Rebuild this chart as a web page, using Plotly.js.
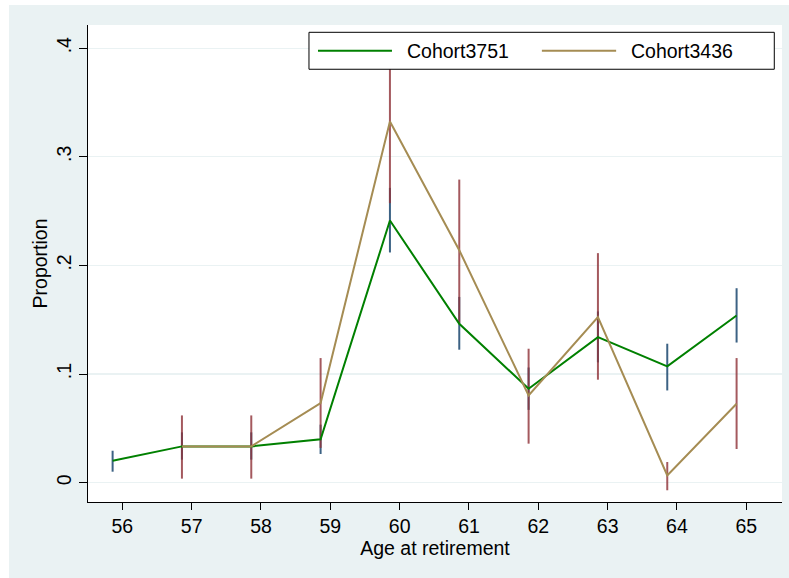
<!DOCTYPE html>
<html>
<head>
<meta charset="utf-8">
<script src="https://cdn.plot.ly/plotly-3.0.1.min.js"></script>
<style>
html,body{margin:0;padding:0;background:#ffffff;}
#chart{position:absolute;left:9px;top:5px;width:780px;height:573px;}
</style>
</head>
<body>
<div id="chart"></div>
<script>
// Series names
var seriesNames = ["Cohort3751", "Cohort3436"];

// Cohort3751
var ages3751 = [56, 57, 58, 59, 60, 61, 62, 63, 64, 65];
var prop3751 = [0.0202, 0.0334, 0.0334, 0.0400, 0.2413, 0.1463, 0.0865, 0.1340, 0.1070, 0.1539];
var lo3751   = [0.0101, 0.0212, 0.0212, 0.0264, 0.2119, 0.1224, 0.0670, 0.1107, 0.0849, 0.1290];
var hi3751   = [0.0294, 0.0463, 0.0463, 0.0534, 0.2714, 0.1710, 0.1060, 0.1576, 0.1279, 0.1790];

// Cohort3436
var ages3436 = [57, 58, 59, 60, 61, 62, 63, 64, 65];
var prop3436 = [0.0334, 0.0334, 0.0733, 0.3324, 0.2140, 0.0803, 0.1524, 0.0067, 0.0727];
var lo3436   = [0.0037, 0.0037, 0.0320, 0.2573, 0.1470, 0.0359, 0.0948, -0.0070, 0.0310];
var hi3436   = [0.0619, 0.0619, 0.1147, 0.4075, 0.2790, 0.1233, 0.2113, 0.0190, 0.1147];

// Axis ticks
var xTickVals = [56, 57, 58, 59, 60, 61, 62, 63, 64, 65];
var xTickText = ["56", "57", "58", "59", "60", "61", "62", "63", "64", "65"];
var yTickVals = [0, 0.1, 0.2, 0.3, 0.4];
var yTickText = ["0", ".1", ".2", ".3", ".4"];

var xShift = -0.14;
function shift(a){ return a.map(function(v){ return v + xShift; }); }
function diff(a, b){ return a.map(function(v, i){ return v - b[i]; }); }

var FONT = "Liberation Sans, Arial, sans-serif";
var GREEN = "#008000", TAN = "#a58c53";
var BLUE_E = "rgba(26,71,111,0.85)", MAROON_E = "rgba(144,53,59,0.82)";

var traces = [
  {x: shift(ages3751), y: prop3751, type: "scatter", mode: "markers",
   marker: {size: 1, opacity: 0}, showlegend: false, hoverinfo: "skip",
   error_y: {type: "data", symmetric: false, array: diff(hi3751, prop3751), arrayminus: diff(prop3751, lo3751),
             color: BLUE_E, thickness: 2, width: 0}},
  {x: shift(ages3436), y: prop3436, type: "scatter", mode: "markers",
   marker: {size: 1, opacity: 0}, showlegend: false, hoverinfo: "skip",
   error_y: {type: "data", symmetric: false, array: diff(hi3436, prop3436), arrayminus: diff(prop3436, lo3436),
             color: MAROON_E, thickness: 2, width: 0}},
  {x: shift(ages3751), y: prop3751, type: "scatter", mode: "lines", name: seriesNames[0],
   line: {color: GREEN, width: 2}, showlegend: false},
  {x: shift(ages3436), y: prop3436, type: "scatter", mode: "lines", name: seriesNames[1],
   line: {color: TAN, width: 2}, showlegend: false}
];

var layout = {
  width: 780, height: 573,
  paper_bgcolor: "#eaf2f3", plot_bgcolor: "#ffffff",
  margin: {l: 79, r: 7.3, t: 20, b: 75.7},
  font: {family: FONT, size: 19.5, color: "#000"},
  showlegend: false,
  xaxis: {
    range: [55.505, 65.515], tickvals: xTickVals, ticktext: xTickText,
    showgrid: false, zeroline: false, showline: true, linecolor: "#000", linewidth: 1,
    ticks: "outside", ticklen: 7, tickcolor: "#000", tickwidth: 1,
    tickfont: {size: 19.5},
    title: {text: "Age at retirement", font: {size: 19.5}, standoff: 4}
  },
  yaxis: {
    range: [-0.0178, 0.4213], tickvals: yTickVals, ticktext: yTickText,
    showgrid: true, gridcolor: "#eaf2f3", gridwidth: 1.2, zeroline: false,
    showline: true, linecolor: "#000", linewidth: 1,
    ticks: "outside", ticklen: 8, tickcolor: "#000", tickwidth: 1,
    tickangle: -90, tickfont: {size: 19.5},
    title: {text: "Proportion", font: {size: 19.5}, standoff: 0}
  },
  shapes: [
    {type: "rect", xref: "paper", yref: "paper", x0: 0.3184, x1: 0.9889, y0: 0.9072, y1: 0.9847,
     fillcolor: "#ffffff", line: {color: "#000", width: 1}, layer: "above"},
    {type: "line", xref: "paper", yref: "paper", x0: 0.3314, x1: 0.438, y0: 0.946, y1: 0.946,
     line: {color: GREEN, width: 2}, layer: "above"},
    {type: "line", xref: "paper", yref: "paper", x0: 0.654, x1: 0.761, y0: 0.946, y1: 0.946,
     line: {color: TAN, width: 2}, layer: "above"}
  ],
  annotations: [
    {xref: "paper", yref: "paper", x: 0.4568, y: 0.946, xanchor: "left", yanchor: "middle",
     text: seriesNames[0], showarrow: false, font: {size: 19.5}},
    {xref: "paper", yref: "paper", x: 0.7795, y: 0.946, xanchor: "left", yanchor: "middle",
     text: seriesNames[1], showarrow: false, font: {size: 19.5}}
  ]
};

Plotly.newPlot("chart", traces, layout, {displayModeBar: false, staticPlot: true});
</script>
</body>
</html>
